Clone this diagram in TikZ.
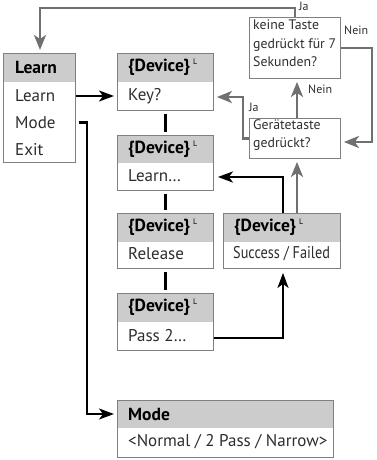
\documentclass[tikz,border=0pt]{standalone}
\usepackage{fontspec}
\setmainfont{PT Sans}
\usetikzlibrary{arrows.meta,calc}
\definecolor{hdr}{RGB}{204,204,204}
\definecolor{bord}{RGB}{128,128,128}
\definecolor{garr}{RGB}{112,112,112}
\definecolor{txt}{RGB}{45,45,45}
\newcommand\devhdr{\{Device\}\,\raisebox{0.42em}{\mdseries\fontsize{8}{8}\selectfont L}}
\newcommand\mkbox[6]{%
  \fill[hdr] (#2,#3) rectangle ++(#4,#6);
  \node[boxst, minimum width=#4pt, minimum height=#5pt] (#1) at (#2,#3) {};}
\begin{document}
\begin{tikzpicture}[x=1pt,y=-1pt,
  boxst/.style={draw=bord, line width=0.9pt, inner sep=0pt, anchor=north west},
  hdrtxt/.style={anchor=west, inner sep=0pt, font=\fontsize{17.5}{20}\selectfont\bfseries, text=black},
  bodytxt/.style={anchor=west, inner sep=0pt, font=\fontsize{17}{20}\selectfont, text=txt},
  qtxt/.style={anchor=north west, inner sep=0pt, align=left, font=\fontsize{13.8}{18.5}\selectfont, text=txt},
  lbl/.style={anchor=west, inner sep=0pt, font=\fontsize{12}{14}\selectfont, text=txt},
  blk/.style={line width=2.2pt, black},
  blkarr/.style={blk, -{Stealth[length=15pt,width=11pt,inset=4pt]}},
  garrow/.style={line width=2.5pt, garr, -{Stealth[length=15pt,width=12pt,inset=4pt]}},
]
\useasboundingbox (0,0) rectangle (377,460);
% boxes
\mkbox{learn}{3}{53}{72}{109}{29}
\node[hdrtxt] (lh) at (15,67.5) {Learn};
\node[bodytxt] (l1) at (15,96) {Learn};
\node[bodytxt] (l2) at (15,122.5) {Mode};
\node[bodytxt] (l3) at (15,149.5) {Exit};

\mkbox{key}{117}{53}{96}{57}{29}
\node[hdrtxt] (kh) at (128,67.5) {\devhdr};
\node[bodytxt] (kb) at (128,96) {Key?};

\mkbox{lrn}{117}{135}{96}{55}{28}
\node[hdrtxt] (lnh) at (128,149) {\devhdr};
\node[bodytxt] (lnb) at (128,176) {Learn…};

\mkbox{rel}{117}{213}{96}{55}{29}
\node[hdrtxt] (rh) at (128,227.5) {\devhdr};
\node[bodytxt] (rb) at (128,254) {Release};

\mkbox{pass}{117}{293}{96}{57}{29}
\node[hdrtxt] (ph) at (128,307.5) {\devhdr};
\node[bodytxt] (pb) at (128,336) {Pass 2…};

\mkbox{succ}{223}{213}{117}{55}{29}
\node[hdrtxt] (sh) at (234,227.5) {\devhdr};
\node[bodytxt] (sb) at (233,254) {\scalebox{0.84}[1]{Success / Failed}};

\mkbox{mode}{117}{400}{216}{57}{28}
\node[hdrtxt] (mh) at (128,414) {Mode};
\node[bodytxt] (mb) at (128,442) {<Normal / 2 Pass / Narrow>};

\node[boxst, minimum width=91pt, minimum height=61pt] (keine) at (249,17) {};
\node[qtxt] (kt) at (253,20) {keine Taste\\gedrückt für 7\\Sekunden?};
\node[boxst, minimum width=91pt, minimum height=40pt] (ger) at (249,118) {};
\node[qtxt] (gt) at (253,119) {Gerätetaste\\gedrückt?};

% labels
\node[lbl] (ja1) at (299,6) {Ja};
\node[lbl] (nein1) at (344,30) {Nein};
\node[lbl] (nein2) at (308,89) {Nein};
\node[lbl] (ja2) at (249,107) {Ja};

% coordinates
\coordinate (mc) at (87,414);
\coordinate (pc) at (283,338);
\coordinate (sc) at (283,177);
\coordinate (gx) at (297,0);
\coordinate (jc) at (243,97);
\coordinate (rx) at (372,142);
\coordinate (tA) at (295,8);
\coordinate (tB) at (40,8);

% black connectors
\draw[blkarr, shorten >=3pt] (learn.east |- l1) -- (key.west |- l1);
\draw[blkarr, shorten >=3pt] ([xshift=3pt]learn.east |- l2) -| (mc) -- (mode.west |- mc);
\draw[blk] ([yshift=-3pt]key.south) -- ([yshift=3pt]lrn.north);
\draw[blk] ([yshift=-3pt]lrn.south) -- ([yshift=3pt]rel.north);
\draw[blk] ([yshift=-3pt]rel.south) -- ([yshift=3pt]pass.north);
\draw[blkarr, shorten >=4pt] (pass.east |- pc) -| (succ.south -| pc);
\draw[blkarr, shorten >=4pt] (succ.north -| sc) |- (lrn.east |- sc);

% gray connectors
\draw[garrow, shorten >=3pt] (succ.north -| gx) -- (ger.south -| gx);
\draw[garrow, shorten >=3pt] (ger.north -| gx) -- (keine.south -| gx);
\draw[garrow, shorten >=3pt] (ger.west) -| (jc) -- (key.east |- jc);
\draw[garrow, shorten >=3pt] (keine.east) -| (rx) -- (ger.east |- rx);
\draw[garrow, shorten >=3pt] (keine.north -| tA) -- (tA) -- (tB) -- (learn.north -| tB);
\end{tikzpicture}
\end{document}
